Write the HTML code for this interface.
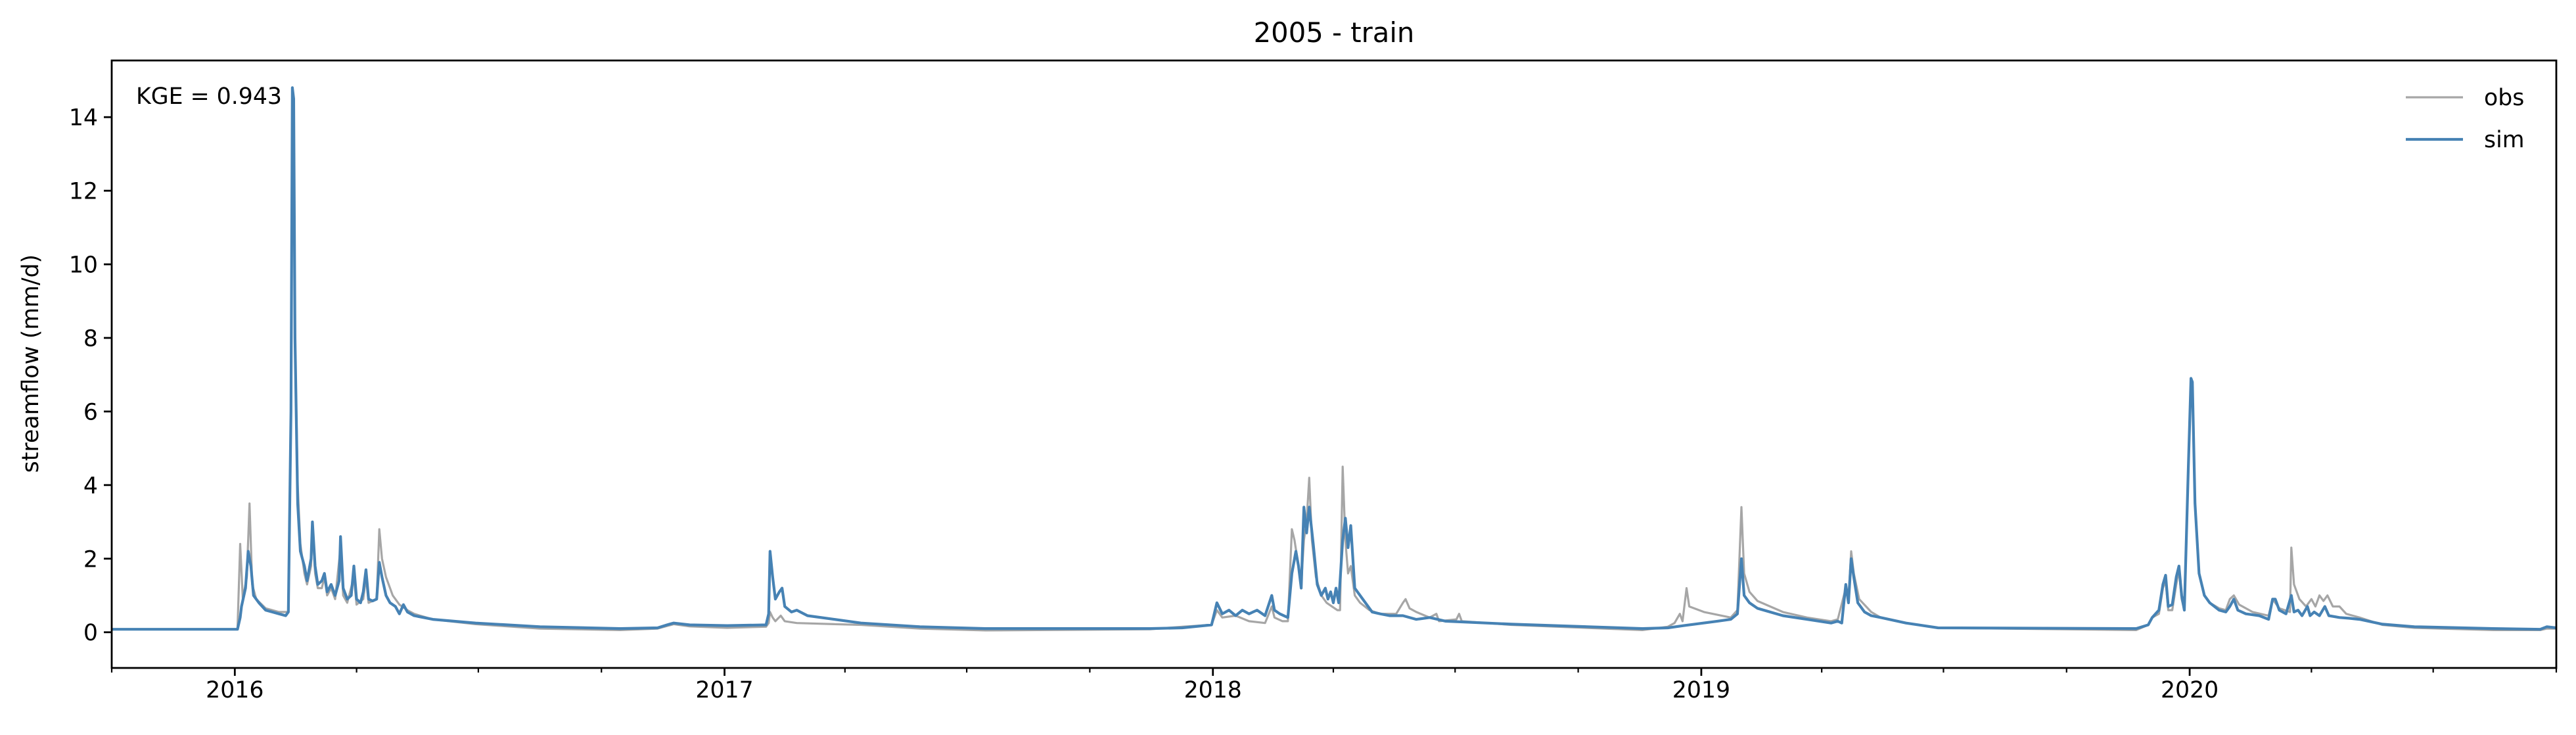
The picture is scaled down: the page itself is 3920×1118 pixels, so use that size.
<!DOCTYPE html>
<html><head><meta charset="utf-8"><style>
html,body{margin:0;padding:0;background:#fff;}
svg{display:block;font-family:"DejaVu Sans","Liberation Sans",sans-serif;}
</style></head><body>
<svg id="chart" width="3920" height="1118" viewBox="0 0 3920 1118" xmlns="http://www.w3.org/2000/svg">
<rect width="3920" height="1118" fill="#fff"/>
<text x="2030" y="64" font-size="41.7" text-anchor="middle">2005 - train</text>
<text transform="translate(58,553) rotate(-90)" font-size="34.7" text-anchor="middle">streamflow (mm/d)</text>
<g id="plot"></g>
<g id="axes"></g>
<text x="207" y="158" font-size="34.7">KGE = 0.943</text>
<g>
<line x1="3661" y1="148" x2="3748" y2="148" stroke="#a6a6a6" stroke-width="3.2"/>
<text x="3780" y="160" font-size="34.7">obs</text>
<line x1="3661" y1="212" x2="3748" y2="212" stroke="#4682b4" stroke-width="4.2"/>
<text x="3780" y="224" font-size="34.7">sim</text>
</g>
</svg>
<script>
// day index since 2015-10-01 (1827 days until 2020-10-01)
const simDays = [0,94,96,97,100,102,104,106,110,115,120,125,130,132,134,135,136,137,139,141,144,146,149,150,152,154,157,159,161,164,167,170,171,173,176,179,181,183,186,188,190,192,195,198,200,202,205,208,212,215,218,221,226,240,272,320,380,408,415,420,432,460,489,491,492,494,496,499,501,503,508,512,520,540,560,604,653,776,800,822,826,830,835,840,845,850,856,862,867,869,873,879,882,885,887,889,891,893,895,898,901,904,907,909,911,913,915,917,920,922,924,926,929,933,937,942,948,955,965,975,985,997,1046,1144,1163,1175,1200,1210,1215,1218,1220,1224,1230,1249,1267,1285,1290,1293,1296,1298,1300,1302,1305,1310,1315,1322,1341,1365,1513,1522,1525,1530,1533,1535,1537,1540,1543,1545,1547,1549,1552,1554,1555,1557,1560,1564,1568,1575,1580,1583,1586,1589,1595,1605,1612,1615,1617,1620,1625,1629,1631,1634,1637,1641,1643,1646,1650,1654,1657,1665,1672,1680,1697,1721,1780,1815,1820,1827];
const simValues = [0.08,0.08,0.4,0.7,1.2,2.2,1.8,1.0,0.8,0.6,0.55,0.5,0.45,0.55,6,14.8,14.5,8,3.5,2.2,1.8,1.4,2.0,3.0,1.8,1.3,1.4,1.6,1.1,1.3,1.0,1.4,2.6,1.2,0.9,1.0,1.8,0.9,0.8,1.1,1.7,0.9,0.85,0.9,1.9,1.5,1.0,0.8,0.7,0.5,0.75,0.55,0.45,0.35,0.25,0.15,0.1,0.12,0.2,0.25,0.2,0.18,0.2,0.5,2.2,1.5,0.9,1.1,1.2,0.7,0.55,0.6,0.45,0.35,0.25,0.15,0.1,0.1,0.12,0.2,0.8,0.5,0.6,0.45,0.6,0.5,0.6,0.45,1.0,0.6,0.5,0.4,1.6,2.2,1.8,1.2,3.4,2.7,3.4,2.4,1.3,1.0,1.2,0.9,1.1,0.8,1.2,0.8,2.5,3.1,2.3,2.9,1.2,1.0,0.8,0.55,0.5,0.45,0.45,0.35,0.4,0.3,0.22,0.1,0.12,0.18,0.3,0.35,0.5,2.0,1.0,0.8,0.65,0.45,0.35,0.25,0.3,0.25,1.3,0.8,2.0,1.5,0.8,0.55,0.45,0.4,0.25,0.12,0.1,0.2,0.4,0.6,1.3,1.55,0.7,0.75,1.5,1.8,1.0,0.6,4.5,6.9,6.8,3.5,1.6,1.0,0.8,0.6,0.55,0.7,0.9,0.6,0.5,0.45,0.35,0.9,0.9,0.6,0.5,1.0,0.55,0.6,0.45,0.7,0.45,0.55,0.45,0.7,0.45,0.4,0.38,0.35,0.22,0.15,0.1,0.08,0.15,0.12];
const obsDays = [0,94,96,98,101,103,105,108,115,125,132,134,135,136,137,139,141,144,146,149,150,152,154,157,159,161,164,167,171,173,176,181,183,188,190,192,198,200,202,205,210,215,221,226,240,272,320,380,408,415,420,432,460,489,491,492,494,496,500,503,512,540,560,604,653,776,800,822,826,830,840,850,862,867,869,875,879,882,884,887,889,891,893,895,897,900,904,908,912,916,918,920,922,924,926,929,933,940,948,960,965,967,970,975,985,990,992,1005,1007,1009,1046,1144,1163,1168,1172,1174,1177,1179,1190,1210,1215,1218,1220,1224,1230,1249,1267,1285,1290,1296,1298,1300,1302,1306,1315,1322,1341,1365,1513,1522,1525,1530,1533,1535,1537,1540,1543,1545,1547,1549,1552,1554,1555,1557,1560,1564,1568,1575,1580,1583,1586,1590,1600,1612,1615,1617,1620,1628,1629,1631,1635,1640,1644,1647,1650,1653,1656,1660,1665,1670,1675,1680,1697,1721,1780,1815,1820,1827];
const obsValues = [0.08,0.08,2.4,0.9,1.5,3.5,1.3,0.9,0.65,0.55,0.55,6,14.7,14.3,8,4,2.4,1.6,1.3,1.8,2.9,1.6,1.2,1.2,1.5,1.0,1.2,0.9,2.3,1.0,0.8,1.5,0.75,0.9,1.5,0.8,0.9,2.8,2.0,1.5,1.0,0.75,0.6,0.5,0.35,0.22,0.1,0.06,0.1,0.17,0.22,0.16,0.12,0.15,0.25,0.55,0.4,0.3,0.45,0.3,0.25,0.22,0.2,0.1,0.05,0.08,0.15,0.2,0.6,0.4,0.45,0.3,0.25,0.7,0.4,0.3,0.3,2.8,2.5,1.8,1.3,2.5,3.0,4.2,2.5,1.5,1.0,0.8,0.7,0.6,0.6,4.5,2.5,1.6,1.8,1.0,0.8,0.6,0.5,0.5,0.8,0.9,0.65,0.55,0.4,0.5,0.3,0.35,0.5,0.3,0.2,0.06,0.15,0.25,0.5,0.3,1.2,0.7,0.55,0.4,0.6,3.4,1.6,1.1,0.85,0.55,0.4,0.3,0.35,1.2,0.9,2.2,1.6,0.9,0.55,0.4,0.25,0.12,0.06,0.2,0.4,0.5,1.2,1.4,0.6,0.6,1.3,1.7,0.9,0.6,4.5,6.9,6.8,3.5,1.6,1.0,0.8,0.65,0.6,0.9,1.0,0.75,0.55,0.45,0.9,0.8,0.65,0.55,2.3,1.3,0.9,0.7,0.9,0.7,1.0,0.85,1.0,0.7,0.7,0.5,0.45,0.4,0.2,0.12,0.06,0.06,0.1,0.1];
const yTicks = [0,2,4,6,8,10,12,14];
const yearTickDays = [92,458,823,1188,1553];
const yearTickLabels = ["2016","2017","2018","2019","2020"];
const minorTickDays = [0,183,274,366,548,639,731,913,1004,1096,1278,1369,1461,1644,1735,1827];

const NS = "http://www.w3.org/2000/svg";
const L = 170, R = 3890, T = 92, B = 1016;
const D0 = 0, D1 = 1827, Y0 = -0.97, Y1 = 15.54;
function xs(d){ return L + (d - D0) / (D1 - D0) * (R - L); }
function ys(v){ return B - (v - Y0) / (Y1 - Y0) * (B - T); }
function mk(tag, attrs, parent){
  const e = document.createElementNS(NS, tag);
  for (const k in attrs) e.setAttribute(k, attrs[k]);
  parent.appendChild(e);
  return e;
}
const plot = document.getElementById('plot');
const axes = document.getElementById('axes');
const clip = mk('clipPath', {id:'clip'}, plot);
mk('rect', {x:L, y:T, width:R-L, height:B-T}, clip);

function series(days, vals, color, w, name){
  const pts = days.map((d,i)=> xs(d).toFixed(1)+','+ys(vals[i]).toFixed(1)).join(' ');
  const p = mk('polyline', {points:pts, fill:'none', stroke:color, 'stroke-width':w, 'stroke-linejoin':'round', 'clip-path':'url(#clip)'}, plot);
  
  
}
series(obsDays, obsValues, '#a6a6a6', 3.2, 'obs-line');
series(simDays, simValues, '#4682b4', 4.2, 'sim-line');

const frame = mk('rect', {x:L, y:T, width:R-L, height:B-T, fill:'none', stroke:'#000', 'stroke-width':2.8}, axes);



yTicks.forEach(v=>{
  const y = ys(v);
  const t = mk('line', {x1:L-12, x2:L, y1:y, y2:y, stroke:'#000', 'stroke-width':2.8}, axes);
  
  
  const lb = mk('text', {x:L-21, y:y+12.5, 'font-size':34.7, 'text-anchor':'end'}, axes);
  lb.textContent = String(v);
  
  
});
yearTickDays.forEach((d,i)=>{
  const x = xs(d);
  const t = mk('line', {x1:x, x2:x, y1:B, y2:B+12, stroke:'#000', 'stroke-width':2.8}, axes);
  
  
  const lb = mk('text', {x:x, y:B+45, 'font-size':34.7, 'text-anchor':'middle'}, axes);
  lb.textContent = yearTickLabels[i];
  
  
});
minorTickDays.forEach(d=>{
  const x = xs(d);
  const t = mk('line', {x1:x, x2:x, y1:B, y2:B+7, stroke:'#000', 'stroke-width':2.2}, axes);
  
  
});
</script>
</body></html>
